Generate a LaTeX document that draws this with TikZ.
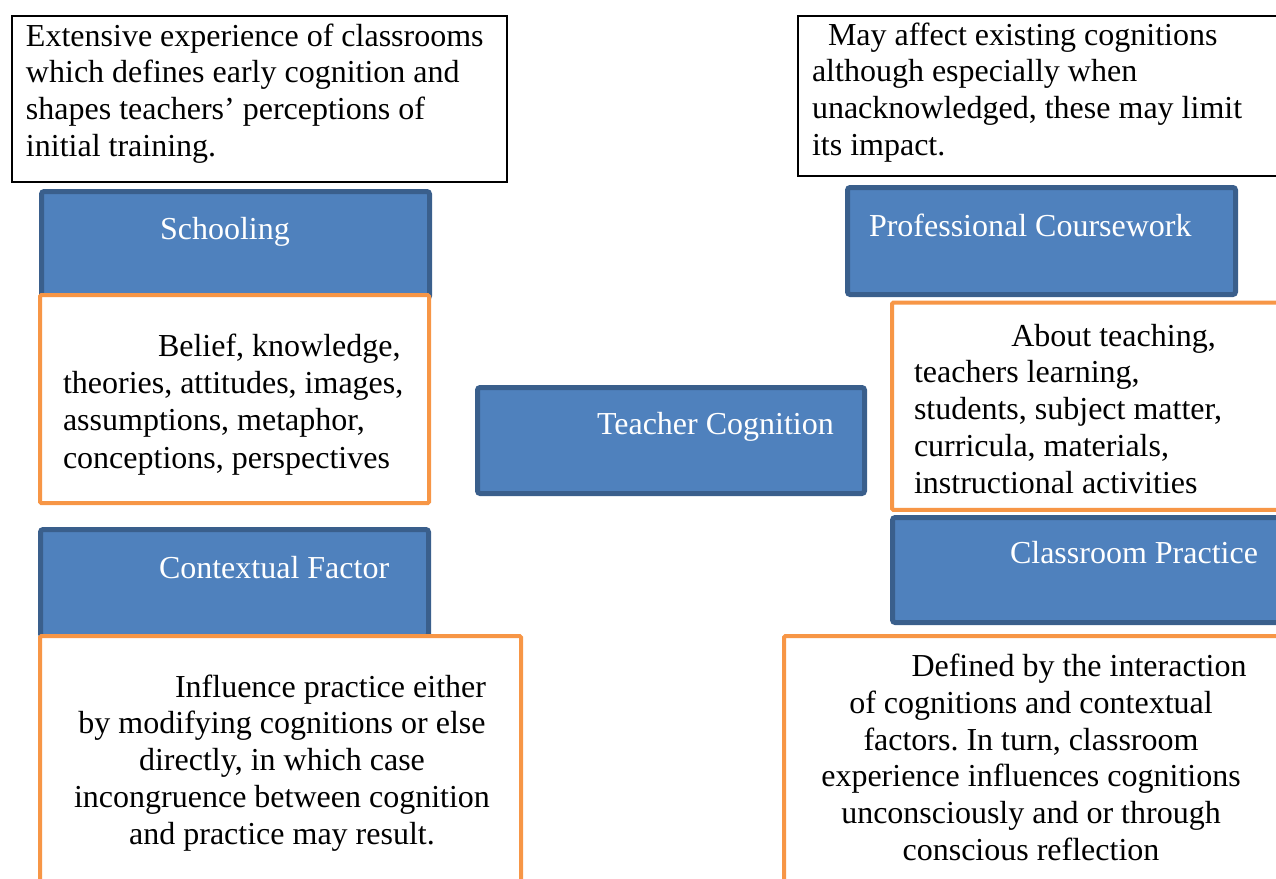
\documentclass[tikz,border=0pt]{standalone}
\usepackage{fontspec}
\setmainfont{Liberation Serif}
\frenchspacing
\definecolor{bfill}{HTML}{4F81BD}
\definecolor{bline}{HTML}{3A5F8C}
\definecolor{orng}{HTML}{F79646}
\tikzset{
  boxbase/.style={anchor=north west, inner sep=0pt, outer sep=0pt},
  bluebox/.style={boxbase, draw=bline, fill=bfill, line width=3.75pt, rounded corners=2pt},
  orangebox/.style={boxbase, draw=orng, fill=white, line width=3pt, rounded corners=1pt},
  notebox/.style={boxbase, draw=black, fill=white, line width=1.5pt},
  txt/.style={anchor=base west, inner sep=0pt, outer sep=0pt, font=\fontsize{24pt}{27.6pt}\selectfont},
  wtxt/.style={txt, text=white},
}
\newcommand{\leftpar}[2]{\begin{minipage}[t]{#1}\frenchspacing\raggedright #2\end{minipage}}
\newcommand{\centpar}[2]{\begin{minipage}[t]{#1}\frenchspacing\centering #2\end{minipage}}
\begin{document}
\begin{tikzpicture}[x=0.75pt,y=-0.75pt]
\useasboundingbox (0,0) rectangle (1276,878);
\clip (0,0) rectangle (1276,878);

% top notes
\node[notebox, minimum width=371.25pt, minimum height=124.5pt] (note1) at (12,16) {};
\node[txt] (note1t) at (26,46) {\leftpar{360pt}{Extensive experience of classrooms\\which defines early cognition and\\shapes teachers’ perceptions of\\initial training.}};

\node[notebox, minimum width=376.5pt, minimum height=120pt] (note2) at (798,16) {};
\node[txt] (note2t) at (812,45) {\leftpar{360pt}{\hspace*{12pt}May affect existing cognitions\\although especially when\\unacknowledged, these may limit\\its impact.}};

% left column
\node[bluebox, minimum width=291pt, minimum height=80.25pt] (school) at (41.5,191.5) {};
\node[wtxt] (schoolt) at (160,239) {Schooling};

\node[orangebox, minimum width=291.75pt, minimum height=156pt] (belief) at (40,295) {};
\node[txt, font=\fontsize{24pt}{28pt}\selectfont] (belieft) at (63,356) {\leftpar{270pt}{\hspace*{71.25pt}Belief, knowledge,\\theories, attitudes, images,\\assumptions, metaphor,\\conceptions, perspectives}};

\node[bluebox, minimum width=291pt, minimum height=80.25pt] (context) at (40.5,529.5) {};
\node[wtxt] (contextt) at (159,578) {Contextual Factor};

\node[orangebox, minimum width=360.75pt, minimum height=202.5pt] (influence) at (40,636) {};
\node[txt] (influencet) at (62,697) {\centpar{330pt}{\hspace*{72.75pt}Influence practice either\\by modifying cognitions or else\\directly, in which case\\incongruence between cognition\\and practice may result.}};

% centre
\node[bluebox, minimum width=290.25pt, minimum height=79.5pt] (teacher) at (477.5,387.5) {};
\node[wtxt] (teachert) at (597,434) {Teacher Cognition};

% right column
\node[bluebox, minimum width=291pt, minimum height=80.25pt] (prof) at (847.5,187.5) {};
\node[wtxt] (proft) at (869,236) {Professional Coursework};

\node[orangebox, minimum width=300pt, minimum height=155.6pt] (about) at (892,302.5) {};
\node[txt] (aboutt) at (914,346) {\leftpar{270pt}{\hspace*{73pt}About teaching,\\teachers learning,\\students, subject matter,\\curricula, materials,\\instructional activities}};

\node[bluebox, minimum width=300pt, minimum height=78.75pt] (classroom) at (892.5,517.5) {};
\node[wtxt] (classroomt) at (1010,563.5) {Classroom Practice};

\node[orangebox, minimum width=370.5pt, minimum height=202.5pt] (defined) at (784,636) {};
\node[txt] (definedt) at (801,676.5) {\centpar{345pt}{\hspace*{72pt}Defined by the interaction\\of cognitions and contextual\\factors. In turn, classroom\\experience influences cognitions\\unconsciously and or through\\conscious reflection}};
\end{tikzpicture}
\end{document}
